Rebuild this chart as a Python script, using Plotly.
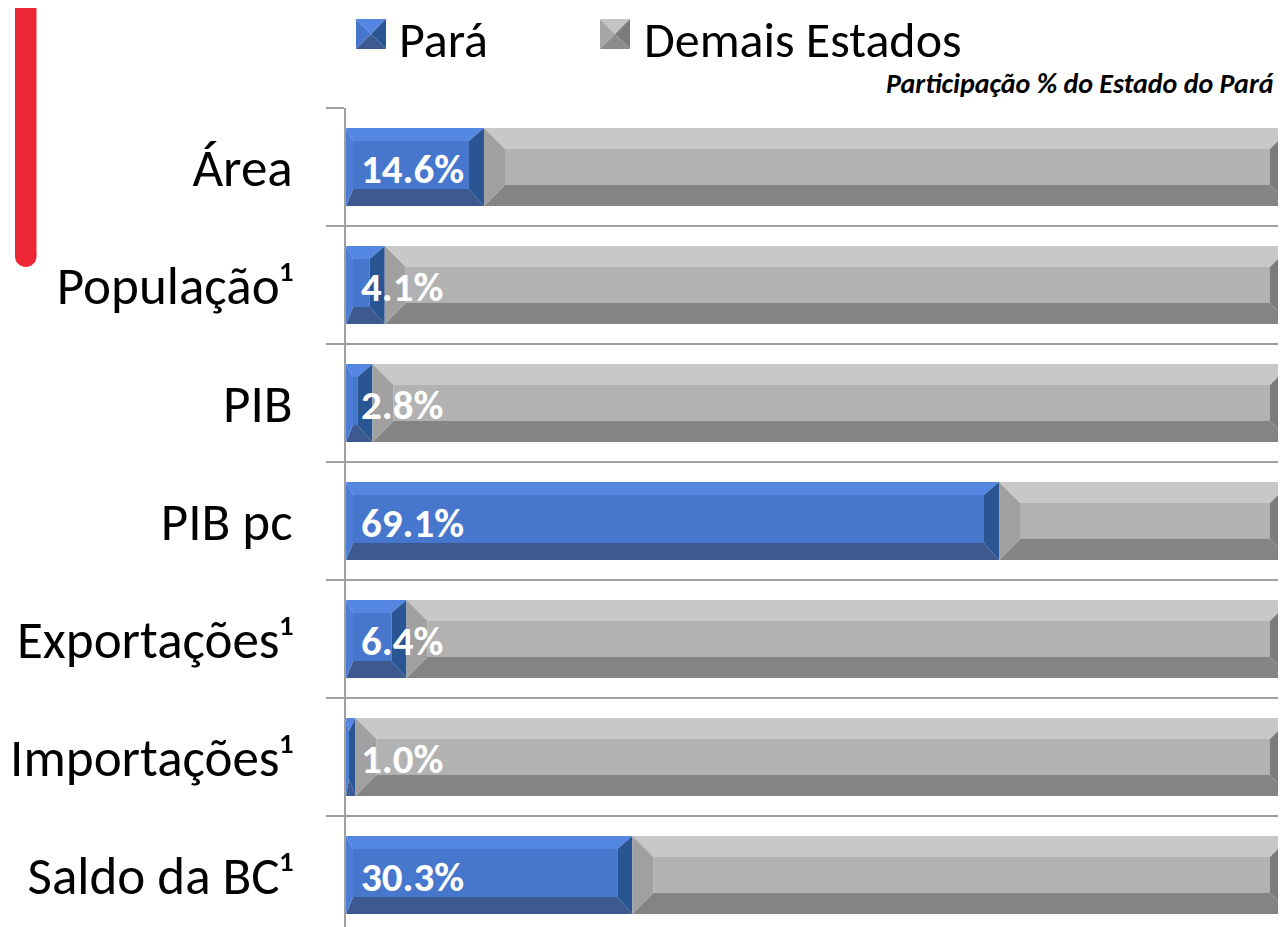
import plotly.graph_objects as go

categories = ["Área", "População¹", "PIB", "PIB pc", "Exportações¹", "Importações¹", "Saldo da BC¹"]
para = [14.6, 4.1, 2.8, 69.1, 6.4, 1.0, 30.3]
demais = [85.4, 95.9, 97.2, 30.9, 93.6, 99.0, 69.7]
labels = ["14.6%", "4.1%", "2.8%", "69.1%", "6.4%", "1.0%", "30.3%"]
series_names = ["Pará", "Demais Estados"]
subtitle = "Participação % do Estado do Pará"

# page is offset by the default 8px body margin
OFF = 8
W, H = 1286 - OFF, 927 - OFF
L, R, T, B = 346 - OFF, 0, 108 - OFF, 0
PW, PH = W - L - R, H - T - B
BAND = 118.0
XMAX = PW / 945.0 * 100.0
YMAX = -0.5 + PH / BAND

FONT = "Carlito, Lato, sans-serif"

BLUE = dict(face="#4777cd", top="#5387e2", bottom="#3d5a90", left="#4d7ed6", right="#2a5593")
GRAY = dict(face="#b2b2b2", top="#c8c8c8", bottom="#848484", left="#a0a0a0", right="#7c7c7c")


def bevel(x0, x1, yc, h, dxl, dxr, dyt, dyb):
    w = x1 - x0
    if w < dxl + dxr:
        s = w / (dxl + dxr)
        dxl, dxr = dxl * s, dxr * s
    t, b = yc - h, yc + h
    return {
        "face": [(x0 + dxl, t + dyt), (x1 - dxr, t + dyt), (x1 - dxr, b - dyb), (x0 + dxl, b - dyb)],
        "top": [(x0, t), (x1, t), (x1 - dxr, t + dyt), (x0 + dxl, t + dyt)],
        "bottom": [(x0, b), (x1, b), (x1 - dxr, b - dyb), (x0 + dxl, b - dyb)],
        "left": [(x0, t), (x0 + dxl, t + dyt), (x0 + dxl, b - dyb), (x0, b)],
        "right": [(x1, t), (x1 - dxr, t + dyt), (x1 - dxr, b - dyb), (x1, b)],
    }


fig = go.Figure()
half = 0.33
px_x = 100.0 / 945.0
px_y = 1.0 / BAND

specs = [
    (series_names[0], BLUE, [0.0] * len(para), para, (7 * px_x, 15 * px_x, 13 * px_y, 17 * px_y)),
    (series_names[1], GRAY, para, demais, (21 * px_x, 21 * px_x, 21 * px_y, 21 * px_y)),
]
for name, cols, starts, lens, (dxl, dxr, dyt, dyb) in specs:
    parts = {k: ([], []) for k in cols}
    for i, (s, ln) in enumerate(zip(starts, lens)):
        polys = bevel(s, s + ln, i, half, dxl, dxr, dyt, dyb)
        for k, pts in polys.items():
            xs, ys = parts[k]
            for (x, y) in pts:
                xs.append(x)
                ys.append(y)
            xs.append(pts[0][0]); ys.append(pts[0][1])
            xs.append(None); ys.append(None)
    for k in ["face", "top", "bottom", "left", "right"]:
        xs, ys = parts[k]
        fig.add_trace(go.Scatter(x=xs, y=ys, mode="lines", fill="toself",
                                 fillcolor=cols[k], line=dict(width=0, color=cols[k]),
                                 hoverinfo="skip", showlegend=False, name=name))

for i, lab in enumerate(labels):
    fig.add_annotation(x=0, y=i, xref="x", yref="y", text=lab, showarrow=False,
                       xanchor="left", yanchor="middle", xshift=13, yshift=-2,
                       font=dict(family=FONT, size=41, color="white", weight="bold"))


def px2paper(px, py):
    # px, py are page coordinates
    fx, fy = px - OFF, py - OFF
    return (fx - L) / PW, (H - B - fy) / PH


shapes = []
# red accent bar
x0p, _ = px2paper(15, 0)
x1p, _ = px2paper(36.5, 0)
_, ytop = px2paper(0, -30)
_, ybot = px2paper(0, 256)
_, ycb = px2paper(0, 267)
shapes.append(dict(type="rect", xref="paper", yref="paper", x0=x0p, x1=x1p, y0=ybot, y1=ytop,
                   fillcolor="#ed2637", line=dict(width=0), layer="above"))
_, yc0 = px2paper(0, 245.5)
shapes.append(dict(type="circle", xref="paper", yref="paper", x0=x0p, x1=x1p, y0=ycb, y1=yc0,
                   fillcolor="#ed2637", line=dict(width=0), layer="above"))


def legend_square(px0, py0, size, c):
    def p(x, y):
        a, b2 = px2paper(x, y)
        return f"{a:.6f},{b2:.6f}"
    cx, cy = px0 + size / 2, py0 + size / 2
    x1, y1 = px0 + size, py0 + size
    tris = [
        ([(px0, py0), (x1, py0), (cx, cy)], c["top"]),
        ([(px0, py0), (px0, y1), (cx, cy)], c["left"]),
        ([(x1, py0), (x1, y1), (cx, cy)], c["right"]),
        ([(px0, y1), (x1, y1), (cx, cy)], c["bottom"]),
    ]
    out = []
    for pts, col in tris:
        path = "M " + " L ".join(p(x, y) for x, y in pts) + " Z"
        out.append(dict(type="path", xref="paper", yref="paper", path=path,
                        fillcolor=col, line=dict(width=0), layer="above"))
    return out


shapes += legend_square(356, 19, 30, dict(top="#5387e2", left="#4777cd", right="#2a5593", bottom="#3d5a90"))
shapes += legend_square(600, 19, 30, dict(top="#c4c4c4", left="#a6a6a6", right="#7c7c7c", bottom="#8c8c8c"))

lx, ly = px2paper(397, 39)
fig.add_annotation(x=lx, y=ly, xref="paper", yref="paper", text=series_names[0], showarrow=False,
                   xanchor="left", yanchor="middle", font=dict(family=FONT, size=50, color="black"))
lx, ly = px2paper(642, 39)
fig.add_annotation(x=lx, y=ly, xref="paper", yref="paper", text=series_names[1], showarrow=False,
                   xanchor="left", yanchor="middle", font=dict(family=FONT, size=50, color="black"))
sx, sy = px2paper(1276, 83)
fig.add_annotation(x=sx, y=sy, xref="paper", yref="paper", text=f"<b><i>{subtitle}</i></b>",
                   showarrow=False, xanchor="right", yanchor="middle",
                   font=dict(family=FONT, size=28, color="black"))

fig.update_layout(
    width=W, height=H,
    margin=dict(l=L, r=R, t=T, b=B, pad=0),
    paper_bgcolor="white", plot_bgcolor="white",
    showlegend=False,
    shapes=shapes,
    xaxis=dict(range=[0, XMAX], visible=False, fixedrange=True),
    yaxis=dict(
        range=[YMAX, -0.5], tickmode="array", tickvals=list(range(len(categories))),
        ticktext=categories, ticks="", showgrid=False, zeroline=False,
        showline=True, linecolor="#a0a0a0", linewidth=1.5,
        tickfont=dict(family=FONT, size=53, color="black"),
        ticklabelstandoff=41,
        minor=dict(tickmode="array", tickvals=[i - 0.5 for i in range(len(categories) + 1)],
                   ticks="outside", ticklen=18, tickcolor="#a0a0a0", tickwidth=1.5,
                   showgrid=True, gridcolor="#a0a0a0", gridwidth=1.5),
        fixedrange=True,
    ),
)

fig.write_html("out.html")
